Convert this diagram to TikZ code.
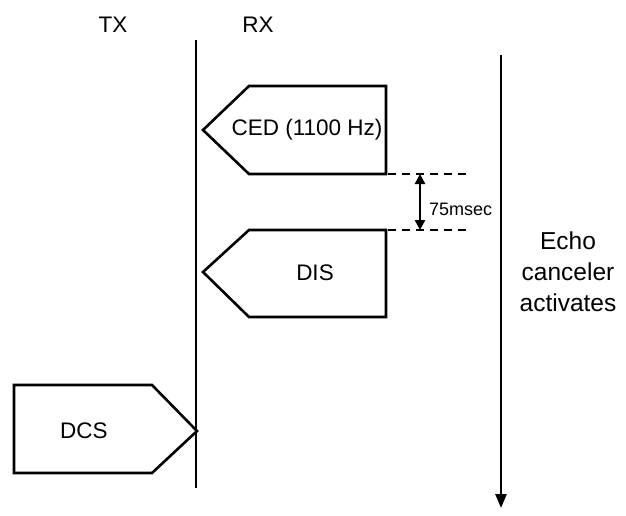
\documentclass[tikz,border=0pt]{standalone}
\usepackage{fontspec}
\setmainfont{Liberation Sans}
\usetikzlibrary{arrows.meta}
\begin{document}
\begin{tikzpicture}[x=1pt,y=-1pt,
  lbl/.style={font=\fontsize{22.5}{27}\selectfont, inner sep=0pt},
  small/.style={font=\fontsize{18}{21}\selectfont, inner sep=0pt},
  sig/.style={line width=2.6pt, line join=miter},
  axis/.style={line width=2.6pt}]
\useasboundingbox (0,0) rectangle (626,515);
% headings
\node[lbl] (tx) at (113,25) {TX};
\node[lbl] (rx) at (258,25) {RX};
% RX time line
\coordinate (rtop) at (196,40);
\coordinate (rbot) at (196,488);
\draw[axis] (rtop) -- (rbot);
% CED
\draw[sig] (203,130) -- (249,86) -- (386,86) -- (386,174) -- (249,174) -- cycle;
\node[lbl] (ced) at (307,130) {CED (1100 Hz)};
% DIS
\draw[sig] (203,272) -- (249,230) -- (386,230) -- (386,317) -- (249,317) -- cycle;
\node[lbl] (dis) at (315,273) {DIS};
% DCS
\draw[sig] (14,385) -- (152,385) -- (197,431) -- (152,473) -- (14,473) -- cycle;
\node[lbl] (dcs) at (84,431) {DCS};
% dashed markers
\coordinate (d1a) at (388,174); \coordinate (d1b) at (468,174);
\coordinate (d2a) at (388,230); \coordinate (d2b) at (468,230);
\draw[line width=2.2pt, dash pattern=on 8pt off 6pt] (d1a) -- (d1b);
\draw[line width=2.2pt, dash pattern=on 8pt off 6pt] (d2a) -- (d2b);
\coordinate (m1) at (420,174); \coordinate (m2) at (420,230);
\draw[line width=2.4pt, {Triangle[length=10pt,width=10pt]}-{Triangle[length=10pt,width=10pt]}] (m1) -- (m2);
\node[small, anchor=west] (ms) at (429,209) {75msec};
% echo canceler axis
\coordinate (etop) at (501,55);
\coordinate (ebot) at (501,508);
\draw[axis, -{Triangle[length=14pt,width=11pt]}] (etop) -- (ebot);
\node[font=\fontsize{24.5}{31}\selectfont, align=center, inner sep=0pt] (echo) at (568,272) {Echo\\canceler\\activates};
\end{tikzpicture}
\end{document}
